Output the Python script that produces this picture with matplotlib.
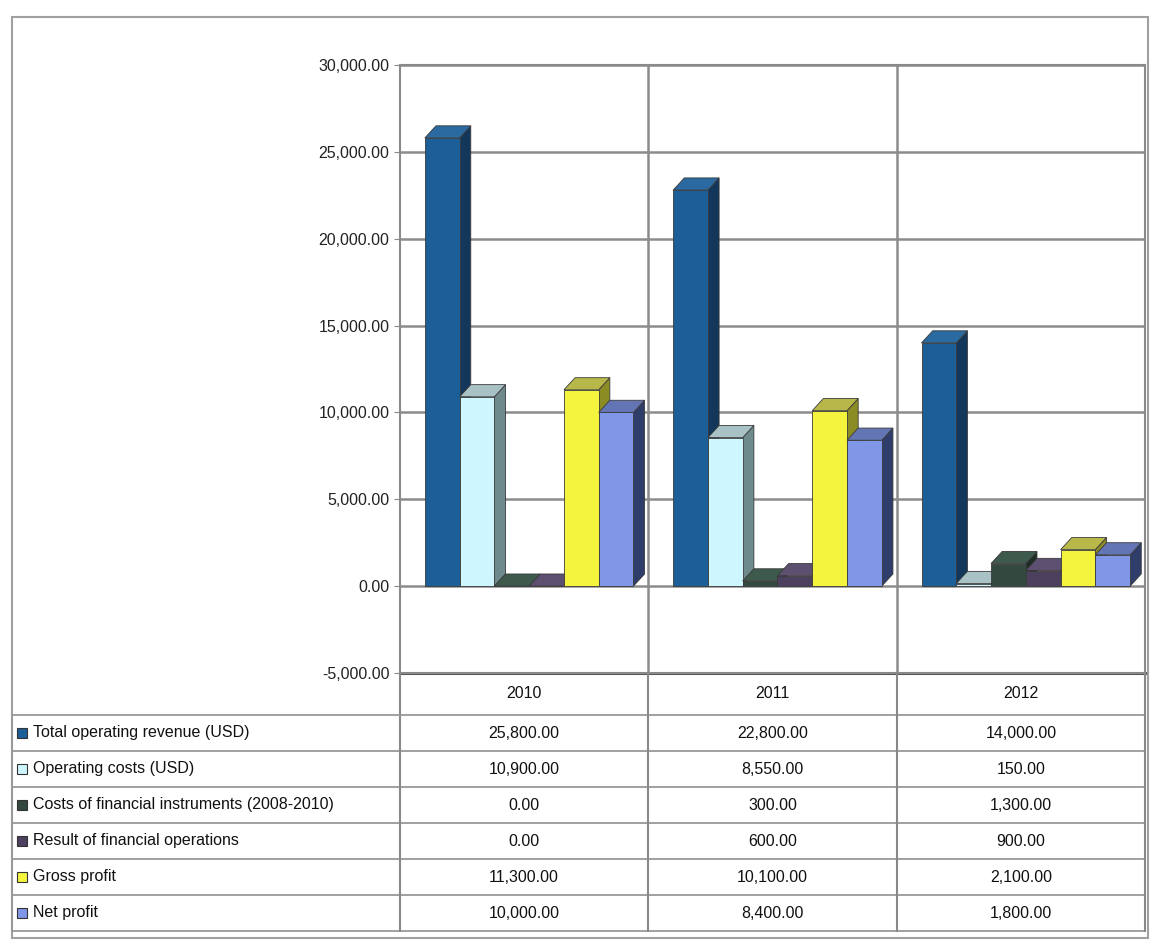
import numpy as np
import matplotlib.pyplot as plt
from matplotlib.patches import Polygon, Rectangle

plt.rcParams['font.family'] = ['Liberation Sans', 'DejaVu Sans']

years = ['2010', '2011', '2012']
series_names = ['Total operating revenue (USD)',
                'Operating costs (USD)',
                'Costs of financial instruments (2008-2010)',
                'Result of financial operations',
                'Gross profit',
                'Net profit']
revenue = [25800, 22800, 14000]
costs = [10900, 8550, 150]
fin_costs = [0, 300, 1300]
fin_result = [0, 600, 900]
gross = [11300, 10100, 2100]
net = [10000, 8400, 1800]
values = [revenue, costs, fin_costs, fin_result, gross, net]

# front, side, top
colors = [('#1c5e98', '#12375a', '#2b6aa0'),
          ('#cdf6ff', '#6f8a8c', '#a9c2c6'),
          ('#33493f', '#1e2c26', '#3d5a4d'),
          ('#4c405e', '#2c2438', '#5c4f70'),
          ('#f4f43e', '#8c8c24', '#b8b84a'),
          ('#8096e6', '#2f3d6b', '#6475b5')]

FS = 11.5
W, H = 1155, 948
fig = plt.figure(figsize=(W / 100, H / 100), dpi=100)

# overlay axes in pixel units for borders and the data table
tax = fig.add_axes([0, 0, 1, 1])
tax.set_xlim(0, W)
tax.set_ylim(H, 0)
tax.axis('off')

ax = fig.add_axes([400 / W, (H - 673) / H, 745 / W, 608 / H])
ax.set_xlim(-0.5, 2.5)
ax.set_ylim(-5000, 30000)
ticks = np.arange(-5000, 30001, 5000)
ax.set_yticks(ticks)
ax.set_yticklabels([f'{t:,.2f}' for t in ticks], fontsize=FS, color='#222222')
ax.set_xticks([])
ax.yaxis.grid(True, color='#8c8c8c', lw=1.8, zorder=0)
ax.set_axisbelow(True)
for xv in [0.5, 1.5]:
    ax.axvline(xv, color='#8c8c8c', lw=1.8, zorder=0)
for s in ax.spines.values():
    s.set_color('#8a8a8a')
    s.set_linewidth(1.5)
ax.tick_params(axis='y', length=4, color='#8a8a8a')

w = 0.14
dx = 0.045
dy = 700
x = np.arange(len(years))
for i, (vals, (cf, cs, ct)) in enumerate(zip(values, colors)):
    left = x - 0.5 + 0.1 + i * w
    ax.bar(left, vals, width=w, align='edge', color=cf, edgecolor='#3a3a3a',
           lw=0.6, zorder=3 + i)
    for xl, v in zip(left, vals):
        side = Polygon([(xl + w, 0), (xl + w + dx, dy), (xl + w + dx, v + dy), (xl + w, v)],
                       closed=True, facecolor=cs, edgecolor='#3a3a3a', lw=0.6, zorder=2.5 + i)
        top = Polygon([(xl, v), (xl + w, v), (xl + w + dx, v + dy), (xl + dx, v + dy)],
                      closed=True, facecolor=ct, edgecolor='#3a3a3a', lw=0.6, zorder=2.6 + i)
        ax.add_patch(side)
        ax.add_patch(top)

# outer chart border
tax.add_patch(Rectangle((12, 17), 1136, 921, fill=False, edgecolor='#a0a0a0', lw=1.5))

# data table
col_edges = [400 + 745 * k / 3 for k in range(4)]
head_top, head_bot = 673, 715
row_h = 36
tax.plot([400, 1145], [head_top, head_top], color='#555555', lw=2.2)
tax.plot([400, 1145], [head_bot, head_bot], color='#999999', lw=1.3)
for k, yr in enumerate(years):
    tax.text((col_edges[k] + col_edges[k + 1]) / 2, (head_top + head_bot) / 2, yr,
             ha='center', va='center', fontsize=FS, color='#111111')
for r, (name, vals, (cf, cs, ct)) in enumerate(zip(series_names, values, colors)):
    y0 = head_bot + r * row_h
    y1 = y0 + row_h
    tax.plot([12, 1145], [y1, y1], color='#999999', lw=1.3)
    tax.add_patch(Rectangle((17, (y0 + y1) / 2 - 5), 10, 10, facecolor=cf,
                            edgecolor='#333333', lw=0.8))
    tax.text(33, (y0 + y1) / 2, name, ha='left', va='center', fontsize=FS, color='#111111')
    for k, v in enumerate(vals):
        tax.text((col_edges[k] + col_edges[k + 1]) / 2, (y0 + y1) / 2, f'{v:,.2f}',
                 ha='center', va='center', fontsize=FS, color='#111111')
table_bot = head_bot + len(series_names) * row_h
for xe in col_edges:
    tax.plot([xe, xe], [head_top, table_bot], color='#888888', lw=1.5)
tax.plot([12, 12], [head_bot, table_bot], color='#999999', lw=1.3)
tax.plot([12, 400], [head_bot, head_bot], color='#999999', lw=1.3)

fig.savefig('out.png', dpi=100)
